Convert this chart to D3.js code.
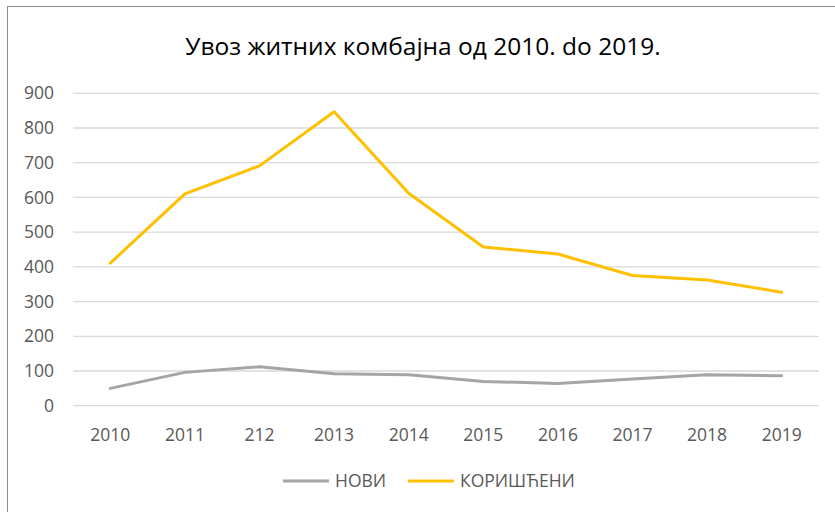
<!DOCTYPE html>
<html>
<head>
<meta charset="utf-8">
<script src="https://cdn.jsdelivr.net/npm/d3@7"></script>
<style>
    body { margin: 0; background: #fff; }
    svg text { font-family: "Open Sans", sans-serif; }
</style>
</head>
<body>
<div class="chart"></div>
<script>
// data
const years = ["2010", "2011", "212", "2013", "2014", "2015", "2016", "2017", "2018", "2019"]
const novi = [50, 96, 112, 92, 89, 70, 64, 77, 89, 86]
const koristeni = [411, 610, 691, 847, 612, 457, 437, 375, 362, 327]
const yTicks = [0, 100, 200, 300, 400, 500, 600, 700, 800, 900]

const seriesNames = ["НОВИ", "КОРИШЋЕНИ"]
const seriesColours = ["#a5a5a5", "#ffc000"]

const width = 835
const height = 512
const margin = { top: 93, right: 16, bottom: 105, left: 73 }

const svg = d3.select(".chart")
    .append("svg")
    .attr("width", width)
    .attr("height", height)

// outer frame (only the left and top edges show in the picture)
svg.append("rect")
    .attr("x", 7.5)
    .attr("y", 6.5)
    .attr("width", width + 20)
    .attr("height", height + 20)
    .attr("fill", "none")
    .attr("stroke", "#8c8c8c")

const x = d3.scaleBand()
    .domain(years)
    .range([margin.left, width - margin.right])

const y = d3.scaleLinear()
    .domain([0, 900])
    .range([height - margin.bottom - 1.3, margin.top + 0.3])

// gridlines
svg.append("g")
    .selectAll("line")
    .data(yTicks)
    .join("line")
    .attr("x1", margin.left)
    .attr("x2", width - margin.right)
    .attr("y1", d => y(d))
    .attr("y2", d => y(d))
    .attr("stroke", "#d9d9d9")
    .attr("stroke-width", 1.3)

// y labels
svg.append("g")
    .selectAll("text")
    .data(yTicks)
    .join("text")
    .attr("x", 54)
    .attr("y", d => y(d))
    .attr("dy", "0.35em")
    .attr("text-anchor", "end")
    .attr("fill", "#595959")
    .attr("font-size", 17.5)
    .text(d => d)

// x labels
svg.append("g")
    .selectAll("text")
    .data(years)
    .join("text")
    .attr("x", d => x(d) + x.bandwidth() / 2)
    .attr("y", 441)
    .attr("text-anchor", "middle")
    .attr("fill", "#595959")
    .attr("font-size", 17.5)
    .text(d => d)

const line = d3.line()
    .x((d, i) => x(years[i]) + x.bandwidth() / 2)
    .y(d => y(d))

const series = [novi, koristeni]

svg.append("g")
    .selectAll("path")
    .data(series)
    .join("path")
    .attr("d", line)
    .attr("fill", "none")
    .attr("stroke", (d, i) => seriesColours[i])
    .attr("stroke-width", 3)
    .attr("stroke-linejoin", "round")
    .attr("stroke-linecap", "round")

// title
svg.append("text")
    .attr("x", 423)
    .attr("y", 55)
    .attr("text-anchor", "middle")
    .attr("fill", "#000")
    .attr("font-size", 24.5)
    .text("Увоз житних комбајна од 2010. do 2019.")

// legend
const legendX = [283, 408]
const legend = svg.append("g")
    .selectAll("g")
    .data(seriesNames)
    .join("g")
    .attr("transform", (d, i) => `translate(${legendX[i]},481)`)

legend.append("line")
    .attr("x1", 0)
    .attr("x2", 46)
    .attr("stroke", (d, i) => seriesColours[i])
    .attr("stroke-width", 3)

legend.append("text")
    .attr("x", 52)
    .attr("dy", "0.35em")
    .attr("fill", "#595959")
    .attr("font-size", 17.5)
    .text(d => d)
</script>
</body>
</html>
